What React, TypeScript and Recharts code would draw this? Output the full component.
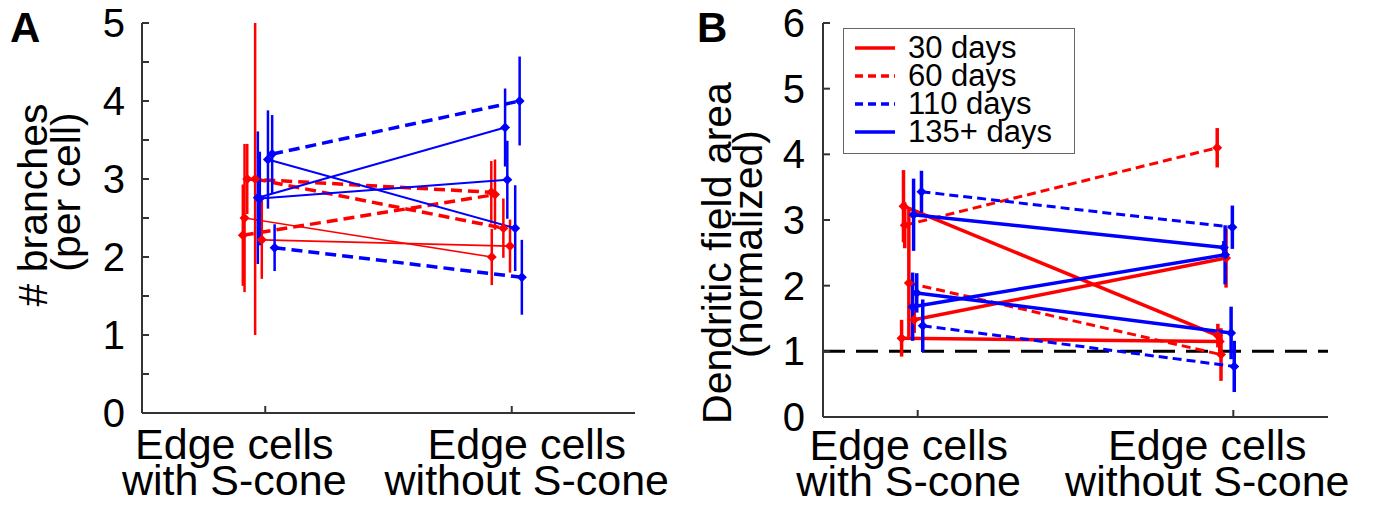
import React from "react";
import { LineChart, Line, XAxis, YAxis, ErrorBar, ReferenceLine, Legend } from "recharts";

// ---------- categories / ticks / legend ----------
const categoryPositions = [1, 2];
const categoryLine1 = ["Edge cells", "Edge cells"];
const categoryLine2 = ["with S-cone", "without S-cone"];
const ticksA = [0, 0.5, 1, 1.5, 2, 2.5, 3, 3.5, 4, 4.5, 5];
const ticksB = [0, 1, 2, 3, 4, 5, 6];
const legendLabels = ["30 days", "60 days", "110 days", "135+ days"];
const legendGroups = ["d30", "d60", "d110", "d135"];

// ---------- Panel A: # branches (per cell) ; points are [x, mean, sem] ----------
const a30_1 = [[0.916, 2.5, 0.95], [1.919, 2.0, 0.36]];
const a30_2 = [[0.986, 2.22, 0.5], [1.993, 2.14, 0.34]];
const a60_1 = [[0.927, 3.0, 0.45], [1.917, 2.83, 0.4]];
const a60_2 = [[0.959, 3.0, 2.0], [1.966, 2.37, 0.38]];
const a60_3 = [[0.909, 2.28, 0.65], [1.932, 2.8, 0.45]];
const a110_1 = [[1.028, 3.32, 0.5], [2.032, 4.0, 0.57]];
const a110_2 = [[1.038, 2.12, 0.3], [2.041, 1.74, 0.48]];
const a135_1 = [[1.011, 3.25, 0.63], [2.014, 2.37, 0.55]];
const a135_2 = [[0.97, 2.76, 0.85], [1.973, 3.66, 0.5]];
const a135_3 = [[0.978, 2.75, 0.6], [1.982, 2.99, 0.5]];

// ---------- Panel B: dendritic field area (normalized) ----------
const b30_1 = [[0.955, 3.21, 0.55], [1.951, 1.24, 0.18]];
const b30_2 = [[0.989, 1.48, 0.2], [1.977, 2.42, 0.45]];
const b30_3 = [[0.949, 1.2, 0.28], [1.957, 1.15, 0.2]];
const b60_1 = [[0.959, 2.92, 0.35], [1.949, 4.1, 0.3]];
const b60_2 = [[0.972, 2.04, [0.82, 1.12]], [1.961, 0.95, 0.4]];
const b110_1 = [[1.012, 3.43, 0.32], [1.997, 2.89, 0.33]];
const b110_2 = [[1.016, 1.39, 0.4], [2.003, 0.77, 0.39]];
const b135_1 = [[0.987, 3.08, 0.55], [1.97, 2.58, 0.1]];
const b135_2 = [[0.984, 1.68, 0.52], [1.974, 2.47, 0.45]];
const b135_3 = [[0.997, 1.89, 0.3], [1.993, 1.28, 0.4]];

const seriesA = [
  { g: "d30", pts: a30_1 }, { g: "d30", pts: a30_2 },
  { g: "d60", pts: a60_1 }, { g: "d60", pts: a60_2 }, { g: "d60", pts: a60_3 },
  { g: "d135", pts: a135_1 }, { g: "d135", pts: a135_2 }, { g: "d135", pts: a135_3 },
  { g: "d110", pts: a110_1 }, { g: "d110", pts: a110_2 },
];
const seriesB = [
  { g: "d30", pts: b30_1 }, { g: "d30", pts: b30_2 }, { g: "d30", pts: b30_3 },
  { g: "d60", pts: b60_1 }, { g: "d60", pts: b60_2 },
  { g: "d135", pts: b135_1 }, { g: "d135", pts: b135_2 }, { g: "d135", pts: b135_3 },
  { g: "d110", pts: b110_1 }, { g: "d110", pts: b110_2 },
];

const RED = "#ff0000";
const BLUE = "#0000ff";
const AXIS = "#333333";
const FONT = "'Liberation Sans', Arial, Helvetica, sans-serif";

const groupColor: Record<string, string> = { d30: RED, d60: RED, d110: BLUE, d135: BLUE };
const groupDashed: Record<string, boolean> = { d30: false, d60: true, d110: true, d135: false };

const toRows = (pts: any[]) => pts.map((p) => ({ x: p[0], y: p[1], e: p[2] }));

const diamond = (color: string, r: number) => (props: any) => {
  const { cx, cy, index } = props;
  if (cx == null || cy == null) return <g key={`n-${index}`} />;
  return (
    <path
      key={`dm-${index}`}
      d={`M${cx},${cy - r}L${cx + r},${cy}L${cx},${cy + r}L${cx - r},${cy}Z`}
      fill={color}
      stroke="none"
    />
  );
};

const makeYTick = (margin: number, labelAll: boolean) => (props: any) => {
  const { x, y, payload } = props;
  const ax = x + margin;
  const v = payload.value;
  const show = labelAll || Number.isInteger(v);
  return (
    <g>
      <line x1={ax} x2={ax + 7} y1={y} y2={y} stroke={AXIS} strokeWidth={2} />
      {show && (
        <text x={x} y={y} dy={14} textAnchor="end" fontSize={40} fontFamily={FONT} fill="#000">
          {v}
        </text>
      )}
    </g>
  );
};

const makeXTick = (offsets: number[], d1: number, d2: number) => (props: any) => {
  const { x, y, payload } = props;
  const i = categoryPositions.indexOf(payload.value);
  const lx = x + offsets[i];
  return (
    <g>
      <line x1={x} x2={x} y1={y} y2={y - 7} stroke={AXIS} strokeWidth={2} />
      <text textAnchor="middle" fontSize={43} fontFamily={FONT} fill="#000">
        <tspan x={lx} y={y + d1}>{categoryLine1[i]}</tspan>
        <tspan x={lx} y={y + d2}>{categoryLine2[i]}</tspan>
      </text>
    </g>
  );
};

const makeYLabel = (letter: string, lx: number, l1: string, l2: string, b1: number, c1: number, b2: number, c2: number) => () => (
  <g fontFamily={FONT} fill="#000">
    <text x={lx} y={42} fontSize={42} fontWeight="bold">{letter}</text>
    <text x={b1} y={c1} fontSize={41} textAnchor="middle" transform={`rotate(-90, ${b1}, ${c1})`}>{l1}</text>
    <text x={b2} y={c2} fontSize={41} textAnchor="middle" transform={`rotate(-90, ${b2}, ${c2})`}>{l2}</text>
  </g>
);

const renderSeries = (list: any[], prefix: string, thin: boolean) =>
  list.map((s, i) => {
    const color = groupColor[s.g];
    const dashed = groupDashed[s.g];
    const lw = thin ? (dashed ? 3.5 : s.g === "d30" ? 1.6 : 2) : dashed ? 3 : 3.5;
    const dash = dashed ? (thin ? "11 6" : "9 5") : undefined;
    return (
      <Line
        key={`${prefix}-${i}`}
        data={toRows(s.pts)}
        dataKey="y"
        type="linear"
        stroke={color}
        strokeWidth={lw}
        strokeDasharray={dash}
        dot={diamond(color, 5)}
        activeDot={false}
        legendType="none"
        isAnimationActive={false}
      >
        <ErrorBar dataKey="e" direction="y" width={0} stroke={color} strokeWidth={thin ? 2.5 : 3.5} />
      </Line>
    );
  });

const LegendBox = () => (
  <div
    style={{
      border: "1.5px solid #666",
      background: "#fff",
      width: 232,
      height: 126,
      boxSizing: "border-box",
      paddingTop: 5,
      fontFamily: FONT,
    }}
  >
    {legendLabels.map((lab, i) => {
      const g = legendGroups[i];
      return (
        <div key={lab} style={{ display: "flex", alignItems: "center", height: 28 }}>
          <svg width={40} height={8} style={{ marginLeft: 11, marginRight: 13 }}>
            <line
              x1={0}
              x2={40}
              y1={4}
              y2={4}
              stroke={groupColor[g]}
              strokeWidth={3.5}
              strokeDasharray={groupDashed[g] ? "8 5" : undefined}
            />
          </svg>
          <span style={{ fontSize: 31, lineHeight: "28px", color: "#000" }}>{lab}</span>
        </div>
      );
    })}
  </div>
);

export default function App() {
  return (
    <div style={{ position: "absolute", left: 0, top: 0, width: 1375, height: 508, background: "#fff" }}>
      <div style={{ position: "absolute", left: 0, top: 0 }}>
        <LineChart width={690} height={508} margin={{ top: 23, right: 55, bottom: 35, left: 82 }}>
          <XAxis
            type="number"
            dataKey="x"
            domain={[0.5, 2.5]}
            ticks={categoryPositions}
            interval={0}
            allowDataOverflow
            height={60}
            tickSize={0}
            tickMargin={0}
            tickLine={false}
            axisLine={{ stroke: AXIS, strokeWidth: 2 }}
            tick={makeXTick([-31, 15], 46, 82)}
          />
          <YAxis
            type="number"
            domain={[0, 5]}
            ticks={ticksA}
            interval={0}
            allowDataOverflow
            width={60}
            tickSize={0}
            tickMargin={17}
            tickLine={false}
            axisLine={{ stroke: AXIS, strokeWidth: 2 }}
            tick={makeYTick(17, false)}
            label={{ content: makeYLabel("A", 10, "# branches", "(per cell)", 47, 205, 80, 192) }}
          />
          {renderSeries(seriesA, "a", true)}
        </LineChart>
      </div>
      <div style={{ position: "absolute", left: 690, top: 0 }}>
        <LineChart width={685} height={508} margin={{ top: 23, right: 47, bottom: 31, left: 73 }}>
          <XAxis
            type="number"
            dataKey="x"
            domain={[0.7, 2.3]}
            ticks={categoryPositions}
            interval={0}
            allowDataOverflow
            height={60}
            tickSize={0}
            tickMargin={0}
            tickLine={false}
            axisLine={{ stroke: AXIS, strokeWidth: 2 }}
            tick={makeXTick([-9, -26], 43, 79)}
          />
          <YAxis
            type="number"
            domain={[0, 6]}
            ticks={ticksB}
            interval={0}
            allowDataOverflow
            width={60}
            tickSize={0}
            tickMargin={18}
            tickLine={false}
            axisLine={{ stroke: AXIS, strokeWidth: 2 }}
            tick={makeYTick(18, true)}
            label={{ content: makeYLabel("B", 7, "Dendritic field area", "(normalized)", 41, 253, 72, 244) }}
          />
          <ReferenceLine y={1} stroke="#000" strokeWidth={3} strokeDasharray="22 11" ifOverflow="extendDomain" />
          {renderSeries(seriesB, "b", false)}
          <Legend
            layout="vertical"
            align="center"
            verticalAlign="middle"
            content={() => <LegendBox />}
            wrapperStyle={{ left: 153, top: 28, width: 232, height: 126 }}
          />
        </LineChart>
      </div>
    </div>
  );
}
